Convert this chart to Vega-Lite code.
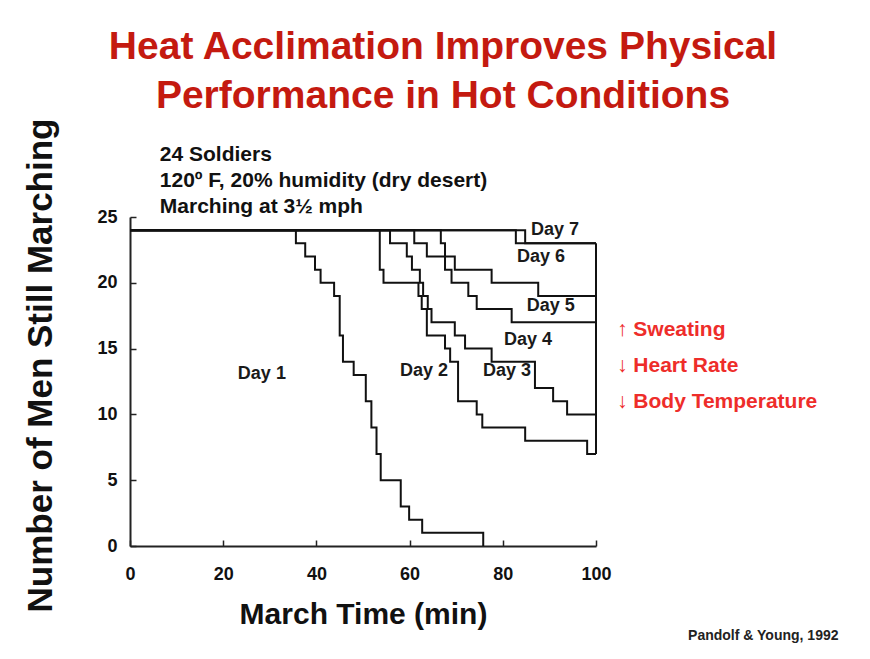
{
  "$schema": "https://vega.github.io/schema/vega-lite/v6.json",
  "width": 466,
  "height": 329,
  "autosize": {"type": "none"},
  "padding": {"left": 130, "top": 217, "right": 274, "bottom": 113},
  "background": "white",
  "title": {
    "text": ["Heat Acclimation Improves Physical", "Performance in Hot Conditions"],
    "color": "#c41a10",
    "font": "Liberation Sans",
    "fontWeight": "bold",
    "fontSize": 39,
    "lineHeight": 49,
    "anchor": "middle",
    "frame": "group",
    "dx": 80,
    "offset": 2
  },
  "config": {
    "view": {"stroke": null},
    "font": "Liberation Sans"
  },
  "encoding": {
    "x": {
      "field": "t", "type": "quantitative",
      "scale": {"domain": [0, 100], "nice": false},
      "axis": {
        "title": "March Time (min)",
        "values": [0, 20, 40, 60, 80, 100],
        "grid": false,
        "labelFlush": false,
        "domainColor": "#222222", "domainWidth": 2,
        "tickColor": "#222222", "tickWidth": 1.5, "tickSize": -6,
        "labelPadding": 25,
        "labelFont": "Liberation Sans", "labelFontWeight": "bold", "labelFontSize": 18, "labelColor": "#111111",
        "titleFont": "Liberation Sans", "titleFontWeight": "bold", "titleFontSize": 30, "titleColor": "#111111",
        "titleBaseline": "alphabetic", "titleY": 77
      }
    },
    "y": {
      "field": "n", "type": "quantitative",
      "scale": {"domain": [0, 25], "nice": false},
      "axis": {
        "title": "Number of Men Still Marching",
        "values": [0, 5, 10, 15, 20, 25],
        "grid": false,
        "labelFlush": false,
        "domainColor": "#222222", "domainWidth": 2,
        "tickColor": "#222222", "tickWidth": 1.5, "tickSize": -6,
        "labelPadding": 19,
        "labelFont": "Liberation Sans", "labelFontWeight": "bold", "labelFontSize": 18, "labelColor": "#111111",
        "titleFont": "Liberation Sans", "titleFontWeight": "bold", "titleFontSize": 35, "titleColor": "#111111",
        "titleAngle": -90, "titleAlign": "center", "titleBaseline": "middle", "titleX": -90, "titleY": 148
      }
    }
  },
  "layer": [
    {
      "data": {
        "values": [
          {"s": "Day 1", "t": 0, "n": 24}, {"s": "Day 1", "t": 35.6, "n": 23}, {"s": "Day 1", "t": 37.6, "n": 22}, {"s": "Day 1", "t": 39.7, "n": 21}, {"s": "Day 1", "t": 40.9, "n": 20}, {"s": "Day 1", "t": 43.8, "n": 19}, {"s": "Day 1", "t": 45, "n": 16}, {"s": "Day 1", "t": 45.7, "n": 14}, {"s": "Day 1", "t": 48, "n": 13}, {"s": "Day 1", "t": 50.6, "n": 11}, {"s": "Day 1", "t": 51.8, "n": 9}, {"s": "Day 1", "t": 52.9, "n": 7}, {"s": "Day 1", "t": 53.8, "n": 5}, {"s": "Day 1", "t": 58.1, "n": 3}, {"s": "Day 1", "t": 59.9, "n": 2}, {"s": "Day 1", "t": 62.7, "n": 1}, {"s": "Day 1", "t": 75.8, "n": 0},
          {"s": "Day 2", "t": 0, "n": 24}, {"s": "Day 2", "t": 53.6, "n": 21}, {"s": "Day 2", "t": 54.4, "n": 20}, {"s": "Day 2", "t": 61.9, "n": 19}, {"s": "Day 2", "t": 62.6, "n": 18}, {"s": "Day 2", "t": 63.7, "n": 16}, {"s": "Day 2", "t": 67.6, "n": 15}, {"s": "Day 2", "t": 68.7, "n": 14}, {"s": "Day 2", "t": 70.4, "n": 11}, {"s": "Day 2", "t": 74.4, "n": 10}, {"s": "Day 2", "t": 75.6, "n": 9}, {"s": "Day 2", "t": 84.8, "n": 8}, {"s": "Day 2", "t": 98.1, "n": 7}, {"s": "Day 2", "t": 100, "n": 7},
          {"s": "Day 3", "t": 0, "n": 24}, {"s": "Day 3", "t": 55.8, "n": 23}, {"s": "Day 3", "t": 59.4, "n": 22}, {"s": "Day 3", "t": 60.5, "n": 21}, {"s": "Day 3", "t": 62.2, "n": 20}, {"s": "Day 3", "t": 62.9, "n": 19}, {"s": "Day 3", "t": 63.9, "n": 18}, {"s": "Day 3", "t": 64.7, "n": 17}, {"s": "Day 3", "t": 69.7, "n": 16}, {"s": "Day 3", "t": 71.9, "n": 15}, {"s": "Day 3", "t": 77.6, "n": 14}, {"s": "Day 3", "t": 86.9, "n": 12}, {"s": "Day 3", "t": 90.8, "n": 11}, {"s": "Day 3", "t": 93.8, "n": 10}, {"s": "Day 3", "t": 100, "n": 10},
          {"s": "Day 4", "t": 0, "n": 24}, {"s": "Day 4", "t": 66.7, "n": 23}, {"s": "Day 4", "t": 67.6, "n": 21}, {"s": "Day 4", "t": 69, "n": 20}, {"s": "Day 4", "t": 72.6, "n": 19}, {"s": "Day 4", "t": 74.4, "n": 18}, {"s": "Day 4", "t": 81.9, "n": 17}, {"s": "Day 4", "t": 100, "n": 17},
          {"s": "Day 5", "t": 0, "n": 24}, {"s": "Day 5", "t": 61, "n": 23}, {"s": "Day 5", "t": 63.7, "n": 22}, {"s": "Day 5", "t": 69.7, "n": 21}, {"s": "Day 5", "t": 77.6, "n": 20}, {"s": "Day 5", "t": 87.6, "n": 19}, {"s": "Day 5", "t": 100, "n": 19},
          {"s": "Day 6", "t": 0, "n": 24}, {"s": "Day 6", "t": 82.8, "n": 23}, {"s": "Day 6", "t": 100, "n": 23},
          {"s": "Day 7", "t": 0, "n": 24}, {"s": "Day 7", "t": 84.8, "n": 23}, {"s": "Day 7", "t": 100, "n": 23}
        ]
      },
      "mark": {"type": "line", "interpolate": "step-after", "color": "#111111", "strokeWidth": 2},
      "encoding": {
        "detail": {"field": "s"}
      }
    },
    {
      "data": {"values": [{"t": 100, "n": 23, "n2": 7}]},
      "mark": {"type": "rule", "color": "#111111", "strokeWidth": 2},
      "encoding": {
        "y2": {"field": "n2"}
      }
    },
    {
      "data": {"values": [
        {"label": "24 Soldiers", "t": 6.4, "n": 29.7},
        {"label": "120º F, 20% humidity (dry desert)", "t": 6.4, "n": 27.74},
        {"label": "Marching at 3½ mph", "t": 6.4, "n": 25.76}
      ]},
      "mark": {"type": "text", "align": "left", "baseline": "middle", "font": "Liberation Sans", "fontWeight": "bold", "fontSize": 21, "color": "#111111"},
      "encoding": {
        "text": {"field": "label"}
      }
    },
    {
      "data": {"values": [
        {"label": "Day 1", "t": 28.3, "n": 13.07},
        {"label": "Day 2", "t": 63.1, "n": 13.3},
        {"label": "Day 3", "t": 80.9, "n": 13.3},
        {"label": "Day 4", "t": 85.4, "n": 15.65},
        {"label": "Day 5", "t": 90.3, "n": 18.24},
        {"label": "Day 6", "t": 88.2, "n": 21.96},
        {"label": "Day 7", "t": 91.2, "n": 24.01}
      ]},
      "mark": {"type": "text", "align": "center", "baseline": "middle", "font": "Liberation Sans", "fontWeight": "bold", "fontSize": 18, "color": "#1a1a1a"},
      "encoding": {
        "text": {"field": "label"}
      }
    },
    {
      "data": {"values": [
        {"label": "↑ Sweating", "t": 104.5, "n": 16.41},
        {"label": "↓ Heart Rate", "t": 104.5, "n": 13.68},
        {"label": "↓ Body Temperature", "t": 104.5, "n": 10.94}
      ]},
      "mark": {"type": "text", "align": "left", "baseline": "middle", "font": "Liberation Sans", "fontWeight": "bold", "fontSize": 21, "color": "#ee2d2a"},
      "encoding": {
        "text": {"field": "label"}
      }
    },
    {
      "data": {"values": [{"label": "Pandolf & Young, 1992", "t": 135.9, "n": -6.84}]},
      "mark": {"type": "text", "align": "center", "baseline": "middle", "font": "Liberation Sans", "fontWeight": "bold", "fontSize": 14, "color": "#222222"},
      "encoding": {
        "text": {"field": "label"}
      }
    }
  ]
}
